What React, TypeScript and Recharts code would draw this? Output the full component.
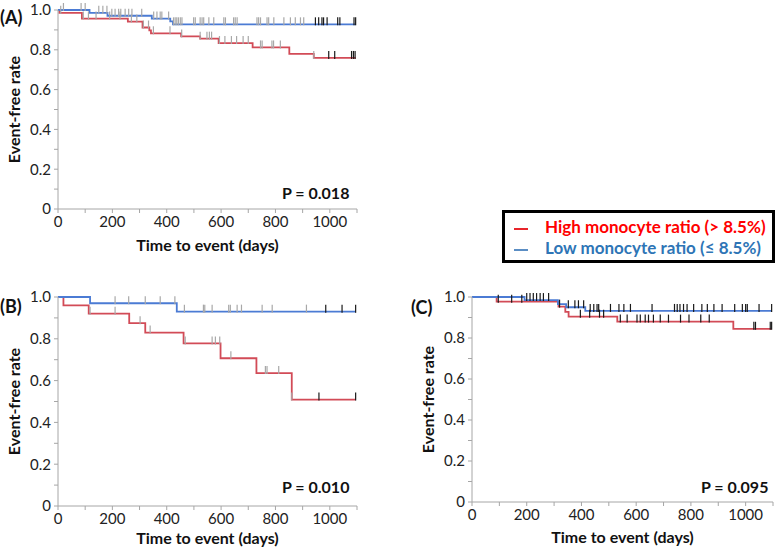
import { ComposedChart, Line, Scatter, XAxis, YAxis } from "recharts";

const HIGH = "#d24b57";
const LOW = "#4b7bd4";
const GRAY_TICK = "#a8a8a8";
const BLACK_TICK = "#1a1a1a";
const FONT = "Lato, 'Open Sans', sans-serif";
const END = 1095;

type Step = [number, number];

// Panel A: all patients
const aHighDrops: Step[] = [[5, 0.986], [88, 0.957], [257, 0.942], [311, 0.912], [336, 0.898], [342, 0.883], [453, 0.867], [523, 0.856], [591, 0.834], [716, 0.812], [851, 0.78], [941, 0.759]];
const aLowDrops: Step[] = [[116, 0.986], [182, 0.971], [345, 0.957], [413, 0.943], [423, 0.928]];
const aHighGray = [10, 93, 112, 140, 190, 228, 270, 290, 314, 333, 351, 412, 455, 523, 548, 557, 565, 594, 614, 638, 657, 681, 700, 745, 751, 787, 793, 818, 941];
const aHighBlack = [996, 1018, 1080, 1087, 1093];
const aLowGray = [20, 85, 100, 150, 165, 180, 198, 210, 223, 231, 247, 260, 272, 308, 352, 364, 376, 382, 407, 425, 431, 437, 443, 450, 456, 499, 505, 523, 530, 536, 555, 573, 610, 616, 646, 652, 659, 732, 738, 745, 769, 775, 794, 831, 855, 873, 892, 904];
const aLowBlack = [947, 959, 971, 977, 990, 1029, 1037, 1089, 1095];

// Panel B
const bHighDrops: Step[] = [[20, 0.96], [113, 0.92], [262, 0.875], [321, 0.83], [462, 0.778], [598, 0.707], [730, 0.636], [860, 0.509]];
const bLowDrops: Step[] = [[118, 0.97], [437, 0.93]];
const bHighGray = [118, 210, 302, 339, 468, 567, 579, 595, 636, 763, 769, 812, 860];
const bHighBlack = [960, 1095];
const bLowGray = [210, 260, 321, 376, 430, 465, 535, 540, 567, 628, 634, 659, 675, 751, 788, 914];
const bLowBlack = [985, 1045, 1095];

// Panel C
const cHighDrops: Step[] = [[90, 0.977], [316, 0.953], [341, 0.927], [353, 0.904], [531, 0.88], [955, 0.845]];
const cLowDrops: Step[] = [[192, 0.985], [314, 0.965], [344, 0.95], [414, 0.932]];
const cHighBlack = [96, 145, 182, 320, 396, 430, 466, 481, 542, 567, 603, 615, 633, 645, 663, 688, 718, 762, 793, 836, 867, 1030, 1036, 1090, 1095];
const cLowBlack = [200, 212, 224, 236, 249, 261, 280, 352, 376, 389, 408, 432, 445, 457, 463, 506, 537, 555, 579, 658, 740, 750, 760, 773, 786, 810, 840, 860, 884, 914, 960, 988, 1000, 1006, 1049, 1095];

const xTicks = [0, 100, 200, 300, 400, 500, 600, 700, 800, 900, 1000, 1100];
const yTicks = [0, 0.1, 0.2, 0.3, 0.4, 0.5, 0.6, 0.7, 0.8, 0.9, 1];

function curve(drops: Step[]) {
  const pts = [{ t: 0, s: 1 }, ...drops.map(([t, s]) => ({ t, s }))];
  pts.push({ t: END, s: pts[pts.length - 1].s });
  return pts;
}

function survivalAt(drops: Step[], t: number) {
  let s = 1;
  for (const [d, v] of drops) if (d <= t) s = v;
  return s;
}

function marks(drops: Step[], times: number[]) {
  return times.map((t) => ({ t, s: survivalAt(drops, t) }));
}

const tickShape = (color: string) => (p: any) =>
  <line x1={p.cx} x2={p.cx} y1={p.cy - 7} y2={p.cy + 1} stroke={color} strokeWidth={1.2} />;

const tickStyle = { fill: "#222", fontSize: 15, fontFamily: FONT };
const titleStyle = { fill: "#111", fontSize: 16, fontWeight: 700, fontFamily: FONT };

type PanelProps = {
  left: number; top: number; width: number; height: number; marginTop: number; marginRight: number; xHeight: number;
  high: Step[]; low: Step[];
  highGray: number[]; highBlack: number[]; lowGray: number[]; lowBlack: number[];
  xLabelOffset: number;
};

function Panel(p: PanelProps) {
  return (
    <div style={{ position: "absolute", left: p.left, top: p.top }}>
      <ComposedChart width={p.width} height={p.height} margin={{ top: p.marginTop, right: p.marginRight, left: 0, bottom: 0 }}>
        <XAxis type="number" dataKey="t" domain={[0, 1100]} ticks={xTicks} interval={0}
          tickFormatter={(t: number) => (t % 200 === 0 && t <= 1000 ? String(t) : "")}
          height={p.xHeight} tickSize={4} tickMargin={3} stroke="#a6a6a6" tick={tickStyle}
          label={{ value: "Time to event (days)", position: "insideBottom", offset: p.xLabelOffset, style: titleStyle }} />
        <YAxis type="number" dataKey="s" domain={[0, 1]} ticks={yTicks} interval={0} width={58}
          tickFormatter={(v: number) => (Math.round(v * 10) % 2 === 0 ? (v === 0 ? "0" : v.toFixed(1)) : "")}
          tickSize={4} tickMargin={3} stroke="#a6a6a6" tick={tickStyle}
          label={{ value: "Event-free rate", angle: -90, position: "insideLeft", offset: 14, style: { ...titleStyle, textAnchor: "middle" } }} />
        <Line data={curve(p.high)} dataKey="s" type="stepAfter" stroke={HIGH} strokeWidth={1.8} dot={false} activeDot={false} isAnimationActive={false} />
        <Line data={curve(p.low)} dataKey="s" type="stepAfter" stroke={LOW} strokeWidth={1.8} dot={false} activeDot={false} isAnimationActive={false} />
        <Scatter data={marks(p.high, p.highGray)} shape={tickShape(GRAY_TICK)} isAnimationActive={false} />
        <Scatter data={marks(p.low, p.lowGray)} shape={tickShape(GRAY_TICK)} isAnimationActive={false} />
        <Scatter data={marks(p.high, p.highBlack)} shape={tickShape(BLACK_TICK)} isAnimationActive={false} />
        <Scatter data={marks(p.low, p.lowBlack)} shape={tickShape(BLACK_TICK)} isAnimationActive={false} />
      </ComposedChart>
    </div>
  );
}

const text = (left: number, top: number, size: number, content: string) => (
  <div style={{ position: "absolute", left, top, fontSize: size, fontWeight: 700, lineHeight: `${size + 4}px`, color: "#111", whiteSpace: "nowrap" }}>
    {content}
  </div>
);

export default function App() {
  return (
    <div style={{ position: "fixed", left: 0, top: 0, width: 778, height: 548, background: "#fff", fontFamily: FONT, overflow: "hidden" }}>
      <Panel left={0} top={0} width={365} height={260} marginTop={10} marginRight={8} xHeight={51} xLabelOffset={9}
        high={aHighDrops} low={aLowDrops} highGray={aHighGray} highBlack={aHighBlack} lowGray={aLowGray} lowBlack={aLowBlack} />
      <Panel left={0} top={280} width={365} height={272} marginTop={17} marginRight={8} xHeight={46} xLabelOffset={8}
        high={bHighDrops} low={bLowDrops} highGray={bHighGray} highBlack={bHighBlack} lowGray={bLowGray} lowBlack={bLowBlack} />
      <Panel left={414} top={280} width={364} height={272} marginTop={17} marginRight={5} xHeight={50} xLabelOffset={9}
        high={cHighDrops} low={cLowDrops} highGray={[]} highBlack={cHighBlack} lowGray={[]} lowBlack={cLowBlack} />

      {text(0, 6, 18, "(A)")}
      {text(0, 295, 18, "(B)")}
      {text(411, 296, 18, "(C)")}
      {text(282, 183, 16, "P = 0.018")}
      {text(282, 477, 16, "P = 0.010")}
      {text(701, 477, 16, "P = 0.095")}

      <div style={{ position: "absolute", left: 502, top: 210, width: 273, height: 53, boxSizing: "border-box", border: "3px solid #000", fontWeight: 700, fontSize: 17 }}>
        <div style={{ position: "absolute", left: 9, top: 3, color: "#ff0000", whiteSpace: "nowrap" }}>
          <span style={{ display: "inline-block", width: 14, height: 2, background: "#e8252b", verticalAlign: "middle", marginRight: 17 }} />
          High monocyte ratio (&gt; 8.5%)
        </div>
        <div style={{ position: "absolute", left: 9, top: 24, color: "#2e75b6", whiteSpace: "nowrap" }}>
          <span style={{ display: "inline-block", width: 14, height: 2, background: "#5b8ec4", verticalAlign: "middle", marginRight: 17 }} />
          Low monocyte ratio (≤ 8.5%)
        </div>
      </div>
    </div>
  );
}
